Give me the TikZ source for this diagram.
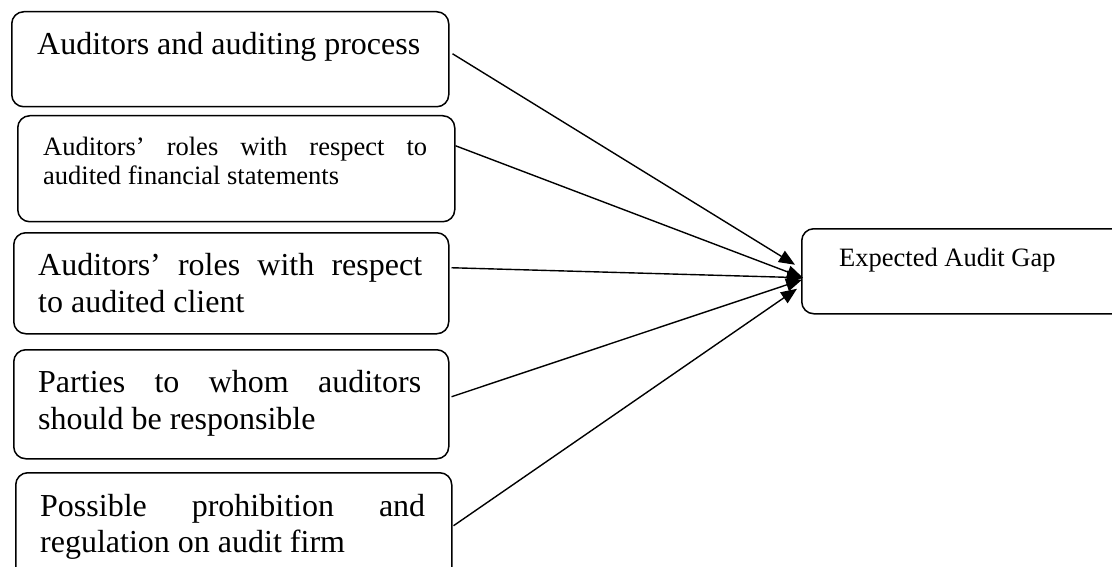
\documentclass[tikz,border=0pt]{standalone}
\usepackage{fontspec}
\setmainfont{Liberation Serif}
\usetikzlibrary{arrows.meta}
\begin{document}
\begin{tikzpicture}[x=1pt,y=-1pt,
  box/.style={draw,line width=1.5pt,rounded corners=12pt,inner sep=0pt,anchor=north west},
  big/.style={inner sep=0pt,anchor=base west,font=\fontsize{32}{37}\selectfont},
  small/.style={inner sep=0pt,anchor=base west,font=\fontsize{26.5}{29}\selectfont},
  conn/.style={line width=1.4pt,-{Triangle[length=16pt,width=13pt]}}]
\useasboundingbox (0,0) rectangle (1112,567);
% boxes
\node[box,minimum width=437pt,minimum height=95pt]  (b1) at (11,11) {};
\node[box,minimum width=437pt,minimum height=106pt] (b2) at (17,115) {};
\node[box,minimum width=435pt,minimum height=101pt] (b3) at (13,232) {};
\node[box,minimum width=435pt,minimum height=109pt] (b4) at (13,349) {};
\node[box,minimum width=436pt,minimum height=118pt] (b5) at (15,472) {};
\node[box,minimum width=339pt,minimum height=85pt]  (g)  at (801,228) {};
% texts
\node[big] (t1) at (37,55) {Auditors and auditing process};
\node[small] (t2a) at (43,156) {\makebox[384pt][s]{Auditors’ roles with respect to}};
\node[small] (t2b) at (43,185) {audited financial statements};
\node[big] (t3a) at (38,275) {\makebox[384pt][s]{Auditors’ roles with respect}};
\node[big] (t3b) at (38,312) {to audited client};
\node[big] (t4a) at (38,392) {\makebox[383pt][s]{Parties to whom auditors}};
\node[big] (t4b) at (38,429) {should be responsible};
\node[big] (t5a) at (40,516) {\makebox[385pt][s]{Possible prohibition and}};
\node[big] (t5b) at (40,552) {regulation on audit firm};
\node[small] (tg) at (839,266) {Expected Audit Gap};
% connectors
\draw[conn] ([xshift=3pt,yshift=5.5pt]b1.east) -- ([xshift=-6pt,yshift=6.5pt]g.west);
\draw[conn] ([yshift=23pt]b2.east) -- ([xshift=2pt,yshift=-6.5pt]g.west);
\draw[conn] ([xshift=2pt,yshift=15.5pt]b3.east) -- ([xshift=2pt,yshift=-6.5pt]g.west);
\draw[conn] ([xshift=2pt,yshift=7.5pt]b4.east) -- ([xshift=1pt,yshift=-8.5pt]g.west);
\draw[conn] ([xshift=1pt,yshift=6pt]b5.east) -- ([xshift=-4pt,yshift=-17.5pt]g.west);
\end{tikzpicture}
\end{document}
